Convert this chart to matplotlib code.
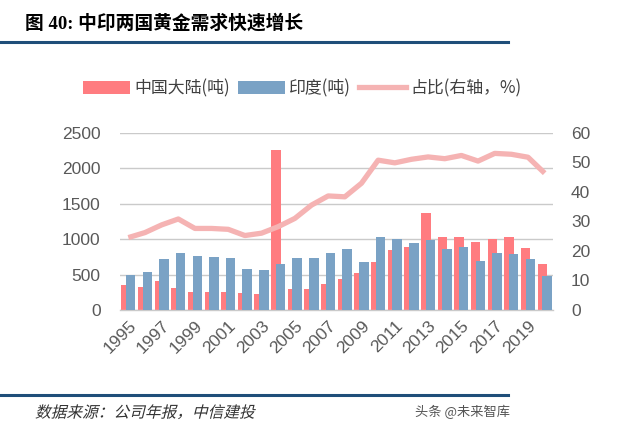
import matplotlib
matplotlib.use("Agg")
import matplotlib.pyplot as plt
from matplotlib.patches import Patch, PathPatch
from matplotlib.lines import Line2D
from matplotlib.textpath import TextPath
from matplotlib.font_manager import FontProperties
from matplotlib.transforms import Affine2D, IdentityTransform
import numpy as np

years = list(range(1995, 2021))
china = [355, 322, 405, 305, 252, 247, 247, 240, 230, 2250, 291, 300, 362, 434, 516, 680, 845, 882,
         1370, 1032, 1023, 953, 995, 1023, 877, 643]
india = [493, 540, 713, 807, 760, 751, 728, 577, 559, 648, 737, 737, 798, 854, 671, 1032, 1000, 948,
         986, 859, 882, 695, 798, 788, 718, 479]
share = [24.5, 26.2, 28.8, 30.8, 27.6, 27.6, 27.3, 25.2, 26.0, 28.2, 31.0, 35.5, 38.6, 38.3, 42.9,
         50.7, 49.8, 51.0, 51.8, 51.2, 52.3, 50.4, 53.0, 52.7, 51.7, 46.3]
xtick_labels = [str(y) for y in years[::2]]

title = "图 40: 中印两国黄金需求快速增长"
legend_labels = ["中国大陆(吨)", "印度(吨)", "占比(右轴，%)"]
source = "数据来源：公司年报，中信建投"
watermark = "头条 @未来智库"

RED = "#FF7C80"
BLUE = "#7AA2C5"
PINK = "#F5B3B3"
GRID = "#CACACA"
TICK = "#595959"

num_font = ["Liberation Sans", "Noto Sans CJK SC"]
cjk_font = ["Noto Sans CJK SC", "DejaVu Sans"]

DPI = 100
fig = plt.figure(figsize=(6.4, 4.36), dpi=DPI)
fig.patch.set_facecolor("white")
ax = fig.add_axes([120/640, 1-310/436, (553-120)/640, (310-132.7)/436])
ax2 = ax.twinx()
ax.set_zorder(1)
ax2.set_zorder(2)
ax.patch.set_visible(False)

x = np.arange(len(years))
w = 0.57
off = 0.14
ax.bar(x - off, china, width=w, color=RED, zorder=2)
ax.bar(x + off, india, width=w, color=BLUE, zorder=3)
ax2.plot(x, share, color=PINK, lw=3.8, solid_joinstyle="round", solid_capstyle="butt")

ax.set_xlim(-0.5, len(years) - 0.5)
ax.set_ylim(0, 2500)
ax.set_yticks([0, 500, 1000, 1500, 2000, 2500])
ax2.set_ylim(0, 60)
ax2.set_yticks([0, 10, 20, 30, 40, 50, 60])
ax.yaxis.grid(True, color=GRID, lw=1.0, zorder=0)
ax.set_axisbelow(True)

for a in (ax, ax2):
    for s in a.spines.values():
        s.set_visible(False)
ax.spines["bottom"].set_visible(True)
ax.spines["bottom"].set_color(GRID)
ax.spines["bottom"].set_linewidth(1.0)

ax.set_xticks(x[::2])
ax.set_xticklabels(xtick_labels, rotation=45, ha="right", va="top", rotation_mode="anchor",
                   family=num_font, fontsize=12.5, color=TICK)
ax.tick_params(axis="x", length=0, pad=6)
ax.tick_params(axis="y", length=0, pad=14, labelsize=12.5, labelcolor=TICK)
ax2.tick_params(axis="y", length=0, pad=13, labelsize=12.5, labelcolor=TICK)
for lab in ax.get_yticklabels() + ax2.get_yticklabels():
    lab.set_family(num_font)

handles = [Patch(facecolor=RED, edgecolor="none"),
           Patch(facecolor=BLUE, edgecolor="none"),
           Line2D([0], [0], color=PINK, lw=3.8)]
leg = fig.legend(handles, legend_labels, loc="center left", bbox_to_anchor=(76/640, 1-88/436),
                 ncol=3, frameon=False, handlelength=2.8, handleheight=0.8, handletextpad=0.25,
                 columnspacing=0.45, prop={"family": cjk_font, "size": 12.2}, borderaxespad=0)
for t in leg.get_texts():
    t.set_color("#404040")

fig.text(25/640, 1-23/436, title, family=["Liberation Serif", "Noto Sans CJK SC"],
         fontweight="bold", fontsize=13.5, va="center", ha="left", color="black")
fig.add_artist(Line2D([0, 508/640], [1-42.3/436]*2, color="#1F4E79", lw=2.2))
fig.add_artist(Line2D([0, 508/640], [1-395/436]*2, color="#1F4E79", lw=2.2))

# italic-looking source line (skewed text path)
fp = FontProperties(family="Noto Sans CJK SC", size=11.3)
tp = TextPath((0, 0), source, prop=fp)
px_per_pt = DPI / 72.0
tr = Affine2D().skew_deg(14, 0).scale(px_per_pt).translate(35, 436 - 412 - 5.5)
fig.add_artist(PathPatch(tp, transform=tr + IdentityTransform(), facecolor="#333333",
                         edgecolor="none", lw=0))

fig.text(510/640, 1-412/436, watermark, family=cjk_font, fontsize=9.5, va="center", ha="right",
         color="#555555")

fig.savefig("out.png", dpi=DPI)
